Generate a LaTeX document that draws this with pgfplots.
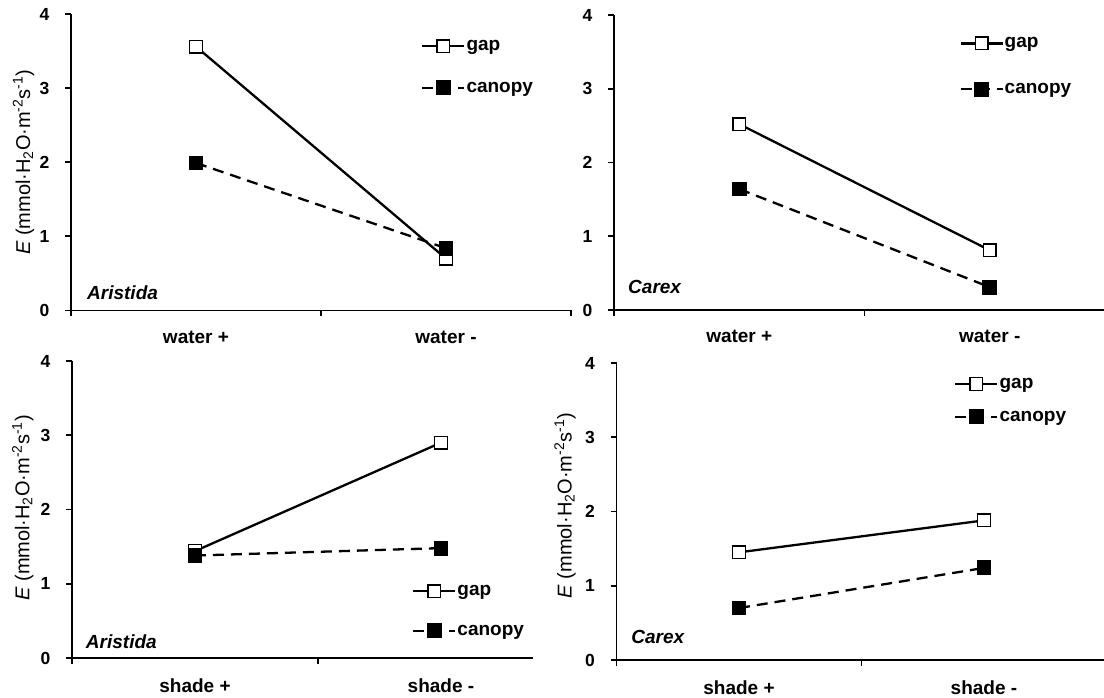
\documentclass[border=0pt]{standalone}
\usepackage{fontspec}
\setmainfont{Liberation Sans}
\usepackage{pgfplots}
\pgfplotsset{compat=1.18}

\pgfplotsset{
  panel/.style={
    scale only axis,
    anchor=south west,
    xmin=0, xmax=2, ymin=0, ymax=4,
    axis lines*=left,
    axis line style={-, line width=1.8pt, black},
    xtick={0,1,2},
    x tick label as interval,
    ytick={0,1,2,3,4},
    tick align=outside,
    major tick length=6pt,
    tick style={line width=1.8pt, black},
    yticklabel style={font=\bfseries\fontsize{17.5}{20}\selectfont, xshift=-12pt},
    xticklabel style={font=\bfseries\fontsize{19}{22}\selectfont, yshift=-11pt},
    /pgf/number format/assume math mode=true,
    clip=false,
    legend cell align=left,
    legend style={draw=none, fill=none, inner sep=0pt, anchor=west,
      font=\bfseries\fontsize{19}{21}\selectfont, nodes={inner sep=1pt}},
    legend image code/.code={\draw[mark repeat=2,mark phase=2,#1]
      plot coordinates {(0pt,0pt) (21pt,0pt) (42pt,0pt)};},
    ylabel style={anchor=center, font=\fontsize{20}{22}\selectfont},
  },
  gap/.style={black, line width=2.3pt, mark=square*, mark size=6.3pt,
    mark options={fill=white, solid, line width=1.4pt}},
  canopy/.style={black, line width=2.3pt, dash pattern=on 11pt off 7pt,
    mark=square*, mark size=6.3pt, mark options={fill=black, solid}},
}
\tikzset{species/.style={anchor=west, inner sep=0pt, font=\bfseries\itshape\fontsize{19}{21}\selectfont}}
\newcommand{\Elabel}{\textit{E} (mmol·H\textsubscript{2}O·m\textsuperscript{-2}s\textsuperscript{-1})}

\begin{document}
\begin{tikzpicture}
\path[use as bounding box] (0,0) rectangle (1104pt,698pt);

% top left: Aristida, water
\begin{axis}[panel, at={(71pt,387.5pt)}, width=500pt, height=296.5pt,
  xticklabels={water +, water -},
  ylabel={\Elabel}, ylabel style={at={(rel axis cs:-0.095,0.5)}},
  legend style={at={(0.70,0.821)}, row sep=28pt}]
\addplot[gap] coordinates {(0.5,3.56) (1.5,0.70)};
\addplot[canopy] coordinates {(0.5,1.99) (1.5,0.84)};
\legend{gap, canopy}
\node[species] at (rel axis cs:0.032,0.059) {Aristida};
\end{axis}

% top right: Carex, water
\begin{axis}[panel, at={(614pt,388pt)}, width=501pt, height=295pt,
  xticklabels={water +, water -},
  legend style={at={(0.689,0.826)}, row sep=32pt}]
\addplot[gap] coordinates {(0.5,2.52) (1.5,0.81)};
\addplot[canopy] coordinates {(0.5,1.64) (1.5,0.31)};
\legend{gap, canopy}
\node[species] at (rel axis cs:0.028,0.078) {Carex};
\end{axis}

% bottom left: Aristida, shade
\begin{axis}[panel, at={(72pt,40pt)}, width=492pt, height=297pt,
  xticklabels={shade +, shade -},
  ylabel={\Elabel}, ylabel style={at={(rel axis cs:-0.10,0.505)}},
  legend style={at={(0.691,0.158)}, row sep=26pt}]
\addplot[gap] coordinates {(0.5,1.44) (1.5,2.90)};
\addplot[canopy] coordinates {(0.5,1.38) (1.5,1.48)};
\legend{gap, canopy}
\node[species] at (rel axis cs:0.028,0.054) {Aristida};
\end{axis}
\fill[white] (533pt,25pt) rectangle (575pt,45pt);

% bottom right: Carex, shade
\begin{axis}[panel, at={(616.5pt,38pt)}, width=490pt, height=297pt,
  xticklabels={shade +, shade -},
  ylabel={\Elabel}, ylabel style={at={(rel axis cs:-0.105,0.52)}},
  legend style={at={(0.689,0.874)}, row sep=19pt}]
\addplot[gap] coordinates {(0.5,1.45) (1.5,1.88)};
\addplot[canopy] coordinates {(0.5,0.70) (1.5,1.24)};
\legend{gap, canopy}
\node[species] at (rel axis cs:0.03,0.077) {Carex};
\end{axis}
\end{tikzpicture}
\end{document}
